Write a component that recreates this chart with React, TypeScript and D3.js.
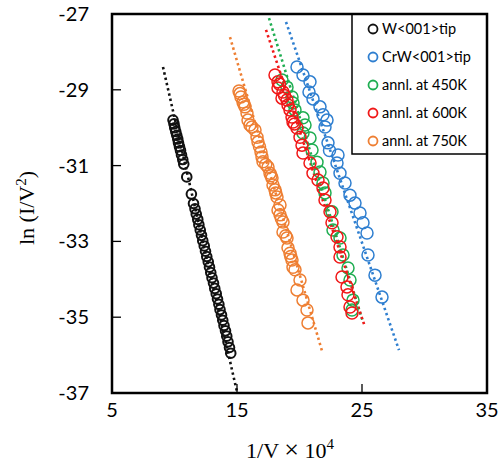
import React, { useEffect, useRef } from "react";
import * as d3 from "d3";

// series: [1/V x 1e4, ln(I/V^2)]
const wTip = [
  [9.88, -29.8], [9.96, -29.9], [10.02, -30.0], [10.1, -30.1], [10.18, -30.2], [10.26, -30.3],
  [10.32, -30.4], [10.4, -30.5], [10.48, -30.6], [10.56, -30.72], [10.66, -30.84], [10.74, -30.96],
  [10.98, -31.3], [11.35, -31.75], [11.52, -32.0], [11.64, -32.14], [11.74, -32.28], [11.86, -32.42],
  [11.95, -32.56], [12.06, -32.7], [12.16, -32.84], [12.26, -32.98], [12.38, -33.12], [12.48, -33.26],
  [12.58, -33.4], [12.7, -33.54], [12.8, -33.68], [12.9, -33.82], [13.0, -33.96], [13.12, -34.1],
  [13.22, -34.24], [13.34, -34.38], [13.44, -34.52], [13.55, -34.66], [13.64, -34.8], [13.76, -34.94],
  [13.86, -35.08], [13.96, -35.22], [14.08, -35.36], [14.18, -35.5], [14.28, -35.65], [14.4, -35.8],
  [14.5, -35.95],
];
const crwTip = [
  [19.8, -28.4], [20.28, -28.61], [20.84, -28.79], [20.76, -29.06], [21.08, -29.24], [21.64, -29.45],
  [21.88, -29.66], [22.2, -29.8], [22.04, -29.98], [22.28, -30.4], [22.4, -30.6], [23.08, -30.72],
  [23.0, -30.93], [23.24, -31.2], [23.64, -31.46], [24.04, -31.78], [24.44, -31.99], [24.84, -32.25],
  [25.08, -32.51], [25.4, -32.78], [25.48, -33.36], [26.04, -33.89], [26.6, -34.47],
];
const annl450 = [
  [18.6, -28.74], [19.0, -28.93], [19.4, -29.19], [19.48, -29.35], [19.64, -29.53], [20.28, -29.74],
  [20.44, -29.93], [20.28, -30.14], [20.84, -30.27], [21.0, -30.59], [21.4, -30.91], [21.64, -31.17],
  [21.88, -31.46], [22.04, -31.72], [22.6, -32.22], [22.68, -32.7], [23.24, -32.91], [23.48, -33.36],
  [23.88, -33.7], [24.04, -34.02], [24.28, -34.55], [24.2, -34.81],
];
const annl600 = [
  [18.04, -28.61], [18.28, -28.79], [18.28, -28.95], [18.4, -28.85], [18.68, -29.06], [18.6, -29.22],
  [18.8, -29.15], [19.0, -29.27], [19.08, -29.4], [19.24, -29.53], [19.4, -29.72], [19.48, -29.85],
  [19.6, -29.9], [19.8, -30.01], [20.04, -30.25], [20.2, -30.46], [20.28, -30.67], [20.84, -30.93],
  [21.08, -31.2], [21.48, -31.38], [21.88, -31.59], [22.04, -31.91], [22.44, -32.22], [22.6, -32.51],
  [23.0, -32.88], [23.24, -33.15], [23.24, -33.41], [23.4, -33.94], [23.8, -34.2], [23.88, -34.41],
  [24.04, -34.73], [24.2, -34.89],
];
const annl750 = [
  [15.16, -29.03], [15.24, -29.1], [15.32, -29.19], [15.48, -29.32], [15.56, -29.38], [15.64, -29.45],
  [15.8, -29.61], [15.88, -29.8], [16.04, -29.93], [16.2, -29.98], [16.44, -30.06], [16.6, -30.25],
  [16.68, -30.38], [16.8, -30.5], [16.92, -30.64], [17.0, -30.77], [17.08, -30.9], [17.3, -30.97],
  [17.48, -31.04], [17.64, -31.2], [17.72, -31.27], [17.8, -31.33], [17.88, -31.51], [18.04, -31.64],
  [18.1, -31.72], [18.2, -31.83], [18.44, -32.04], [18.28, -32.17], [18.44, -32.3], [18.55, -32.4],
  [18.68, -32.49], [18.68, -32.75], [18.9, -32.85], [19.0, -32.91], [19.08, -33.17], [19.24, -33.31],
  [19.3, -33.4], [19.4, -33.49], [19.48, -33.68], [19.64, -33.75], [20.04, -34.02], [19.8, -34.28],
  [20.28, -34.55], [20.6, -34.81], [20.68, -35.15],
];

// dotted trend lines (end points)
const wFit = [[9.08, -28.4], [15.0, -36.97]];
const crwFit = [[18.92, -27.21], [27.96, -35.87]];
const fit450 = [[17.56, -27.11], [25.1, -35.15]];
const fit600 = [[17.32, -27.42], [25.24, -35.26]];
const fit750 = [[14.44, -27.61], [21.8, -35.89]];

const names = ["W<001>tip", "CrW<001>tip", "annl. at 450K", "annl. at 600K", "annl. at 750K"];
const colors = ["#111111", "#2f7fd0", "#1fae52", "#f01818", "#ee7f33"];
const xTicks = [5, 15, 25, 35];
const yTicks = [-27, -29, -31, -33, -35, -37];

export default function App() {
  const ref = useRef<SVGSVGElement>(null);

  useEffect(() => {
    const svg = d3.select(ref.current);
    svg.selectAll("*").remove();
    const margin = { top: 14, right: 14, bottom: 70, left: 112 };
    const width = 501, height = 463;

    const x = d3.scaleLinear().domain([5, 35]).range([margin.left, width - margin.right]);
    const y = d3.scaleLinear().domain([-37, -27]).range([height - margin.bottom, margin.top]);

    const series = [wTip, crwTip, annl450, annl600, annl750];
    const fits = [wFit, crwFit, fit450, fit600, fit750];
    const line = d3.line().x((d: any) => x(d[0])).y((d: any) => y(d[1]));

    // trend lines
    fits.forEach((f, i) => {
      svg.append("path")
        .attr("d", line(f as any))
        .attr("fill", "none")
        .attr("stroke", colors[i])
        .attr("stroke-width", 2.6)
        .attr("stroke-dasharray", "2.4 3");
    });

    // markers
    series.forEach((s, i) => {
      svg.append("g").selectAll("circle")
        .data(s)
        .enter()
        .append("circle")
        .attr("cx", d => x(d[0]))
        .attr("cy", d => y(d[1]))
        .attr("r", i === 0 ? 4.8 : 6)
        .attr("fill", "none")
        .attr("stroke", colors[i])
        .attr("stroke-width", i === 0 ? 2 : 1.5);
    });

    const x0 = x(5), x1 = x(35), y0 = y(-27), y1 = y(-37);

    // ticks
    svg.append("g").selectAll("line")
      .data(yTicks.slice(1, -1))
      .enter().append("line")
      .attr("x1", x0).attr("x2", x0 + 9)
      .attr("y1", d => y(d)).attr("y2", d => y(d))
      .attr("stroke", "#000").attr("stroke-width", 1.3);
    svg.append("g").selectAll("line")
      .data(xTicks.slice(1, -1))
      .enter().append("line")
      .attr("x1", d => x(d)).attr("x2", d => x(d))
      .attr("y1", y1).attr("y2", y1 - 9)
      .attr("stroke", "#000").attr("stroke-width", 1.3);

    // tick labels
    svg.append("g").selectAll("text")
      .data(yTicks)
      .enter().append("text")
      .attr("x", 89).attr("y", d => y(d))
      .attr("dy", "0.35em")
      .attr("text-anchor", "end")
      .style("font-family", "Lato, 'Open Sans', sans-serif")
      .style("font-size", "20px")
      .text(d => d);
    svg.append("g").selectAll("text")
      .data(xTicks)
      .enter().append("text")
      .attr("x", d => x(d)).attr("y", 417)
      .attr("text-anchor", "middle")
      .style("font-family", "Lato, 'Open Sans', sans-serif")
      .style("font-size", "20px")
      .text(d => d);

    // axis titles
    const yl = svg.append("text")
      .attr("transform", "translate(34,208) rotate(-90)")
      .attr("text-anchor", "middle")
      .style("font-family", "'Liberation Serif', serif")
      .style("font-size", "22px");
    yl.append("tspan").text("ln (I/V");
    yl.append("tspan").attr("dy", -8).style("font-size", "15px").text("2");
    yl.append("tspan").attr("dy", 8).text(")");

    const xl = svg.append("text")
      .attr("x", 290).attr("y", 458)
      .attr("text-anchor", "middle")
      .style("font-family", "'Liberation Serif', serif")
      .style("font-size", "22px");
    xl.append("tspan").text("1/V ");
    xl.append("tspan").style("font-size", "26px").text("\u00d7");
    xl.append("tspan").text(" 10");
    xl.append("tspan").attr("dy", -9).style("font-size", "15px").text("4");

    // legend
    const lg = svg.append("g");
    lg.append("rect")
      .attr("x", 352).attr("y", y0)
      .attr("width", x1 - 352).attr("height", 140)
      .attr("fill", "#fff").attr("stroke", "#000").attr("stroke-width", 1.5);
    names.forEach((n, i) => {
      const ly = 29 + i * 28;
      lg.append("circle")
        .attr("cx", 373).attr("cy", ly).attr("r", 4.5)
        .attr("fill", "none").attr("stroke", colors[i]).attr("stroke-width", 1.8);
      lg.append("text")
        .attr("x", 382).attr("y", ly).attr("dy", "0.35em")
        .style("font-family", "Lato, 'Open Sans', sans-serif")
        .style("font-size", "14.5px")
        .text(n);
    });

    // frame
    svg.append("rect")
      .attr("x", x0).attr("y", y0)
      .attr("width", x1 - x0).attr("height", y1 - y0)
      .attr("fill", "none").attr("stroke", "#000").attr("stroke-width", 2.5);
  }, []);

  return (
    <svg ref={ref} width={501} height={463}
      style={{ position: "absolute", left: 0, top: 0, background: "#fff" }} />
  );
}
